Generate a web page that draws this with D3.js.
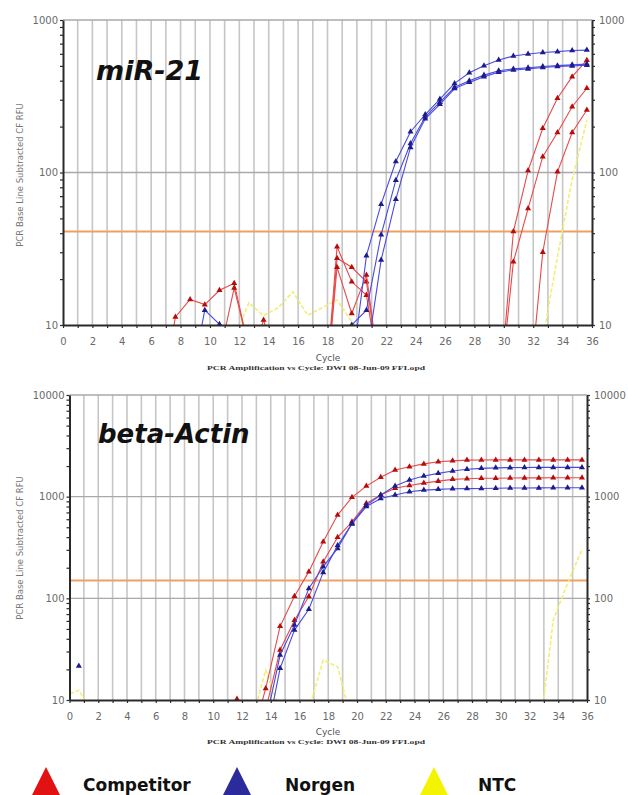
<!DOCTYPE html>
<html>
<head>
<meta charset="utf-8">
<script src="https://cdn.jsdelivr.net/npm/d3@7/dist/d3.min.js"></script>
<style>
  html, body { margin: 0; padding: 0; background: #fff; }
  svg { display: block; }
</style>
</head>
<body>
<svg id="chart" width="628" height="795"></svg>
<script>
// ---- data: RFU per cycle; each trace lists the first cycle and the readings that follow ----
const cycleTicks = d3.range(0, 37);

// miR-21 panel
const mirThreshold = 41;
const mirCompetitor = [
  { first: 7,  values: [3, 11.3, 14.7, 13.6, 16.9, 18.8, 7] },
  { first: 11, values: [6.3, 17.5, 7] },
  { first: 13, values: [5, 10.8, 5] },
  { first: 18, values: [2, 32.6, 19.2, 15.7, 4] },
  { first: 18, values: [2, 27.4, 23.9, 19.2, 4] },
  { first: 18, values: [2, 23.9, 11.9, 21.3, 4] },
  { first: 30, values: [3, 41, 103, 195, 307, 425, 545] },
  { first: 30, values: [3, 26, 58, 127, 183, 270, 357] },
  { first: 32, values: [3, 30, 101, 183, 257] }
];
const mirNorgen = [
  { first: 9,  values: [4, 12.5, 10.1, 4] },
  { first: 20, values: [5, 28.5, 62, 118, 185, 240, 303, 384, 451, 501, 547, 581, 598, 612, 620, 631, 635] },
  { first: 19, values: [4, 10, 12.5, 39, 89, 155, 232, 289, 362, 400, 435, 465, 478, 486, 495, 502, 508, 514] },
  { first: 21, values: [6, 26.7, 66.7, 146, 225, 280, 355, 390, 425, 455, 470, 478, 488, 495, 500, 505] }
];
const mirNTC = [
  { first: 12, values: [8, 14, 11.5, 13, 16.5, 11.6, 13, 14.6, 10.5, 8] },
  { first: 33, values: [8, 28, 90, 220] }
];

// beta-Actin panel
const actinThreshold = 150;
const actinCompetitor = [
  { first: 11, values: [4, 10.2, 4] },
  { first: 13, values: [4, 13, 53, 105, 183, 360, 659, 985, 1270, 1549, 1827, 1969, 2100, 2204, 2250, 2290, 2295, 2300, 2300, 2300, 2300, 2300, 2300, 2300] },
  { first: 14, values: [8, 31, 61, 104, 229, 398, 566, 860, 1037, 1208, 1290, 1360, 1422, 1480, 1500, 1515, 1520, 1525, 1530, 1530, 1535, 1535, 1535] }
];
const actinNorgen = [
  { first: 1,  values: [21.6] },
  { first: 14, values: [6, 27.7, 54.6, 125, 205, 310, 546, 827, 1037, 1270, 1456, 1595, 1695, 1790, 1860, 1900, 1920, 1930, 1935, 1940, 1940, 1940, 1940] },
  { first: 14, values: [4, 20.5, 48.7, 78, 180, 330, 540, 800, 960, 1037, 1117, 1160, 1180, 1195, 1200, 1205, 1210, 1215, 1218, 1220, 1222, 1224, 1224] }
];
const actinNTC = [
  { first: 0,  values: [11, 12.5, 7] },
  { first: 13, values: [6, 19.7, 8] },
  { first: 17, values: [8, 24.7, 21.2, 6] },
  { first: 33, values: [4, 61, 141, 300] }
];

const legendItems = ["Competitor", "Norgen", "NTC"];

// ---- styling ----
const colors = {
  competitorLine: "#e64a4a", competitorMark: "#b80c0c",
  norgenLine: "#4a4ae0", norgenMark: "#1c1c8e",
  ntcLine: "#f2ee72",
  threshold: "#f0a064",
  grid: "#c6c6c6", axis: "#2a2a2a", label: "#6a6a6a"
};
const legendColors = ["#e21212", "#2b2b9c", "#f4f400"];
const cycleShift = 0.35; // readings sit slightly before each integer cycle mark

const svg = d3.select("#chart");

const panels = [
  { id: "mir", title: "miR-21", titleX: 96, titleY: 80, titleSize: 27,
    left: 63, right: 592, top: 20, bottom: 325, yDomain: [10, 1000],
    threshold: mirThreshold, competitor: mirCompetitor, norgen: mirNorgen, ntc: mirNTC,
    tickLabelY: 17, cycleY: 361, subY: 370, yTitleY: 175 },
  { id: "actin", title: "beta-Actin", titleX: 98, titleY: 443, titleSize: 26,
    left: 69.5, right: 587, top: 395, bottom: 700, yDomain: [10, 10000],
    threshold: actinThreshold, competitor: actinCompetitor, norgen: actinNorgen, ntc: actinNTC,
    tickLabelY: 17, cycleY: 735, subY: 744, yTitleY: 548 }
];

panels.forEach(drawPanel);

function toPoints(trace) {
  return trace.values.map((v, i) => ({ c: trace.first + i - cycleShift, v }));
}

function drawPanel(p) {
  const x = d3.scaleLinear().domain([0, 36]).range([p.left, p.right]);
  const y = d3.scaleLog().domain(p.yDomain).range([p.bottom, p.top]);
  const g = svg.append("g");

  g.append("clipPath").attr("id", "clip-" + p.id)
    .append("rect")
    .attr("x", p.left).attr("y", p.top)
    .attr("width", p.right - p.left).attr("height", p.bottom - p.top);

  // vertical grid, one line per cycle
  g.append("g").selectAll("line")
    .data(cycleTicks.slice(1, -1))
    .join("line")
    .attr("x1", d => x(d)).attr("x2", d => x(d))
    .attr("y1", p.top).attr("y2", p.bottom)
    .attr("stroke", colors.grid).attr("stroke-width", 1.6);

  // horizontal grid at each decade
  const decades = y.ticks().filter(d => Number.isInteger(Math.log10(d)));
  g.append("g").selectAll("line")
    .data(decades.filter(d => d > p.yDomain[0]))
    .join("line")
    .attr("x1", p.left).attr("x2", p.right)
    .attr("y1", d => y(d)).attr("y2", d => y(d))
    .attr("stroke", "#a9a9a9").attr("stroke-width", 1.4);

  // threshold
  g.append("line")
    .attr("x1", p.left).attr("x2", p.right)
    .attr("y1", y(p.threshold)).attr("y2", y(p.threshold))
    .attr("stroke", colors.threshold).attr("stroke-width", 2);

  const plot = g.append("g").attr("clip-path", `url(#clip-${p.id})`);
  const line = d3.line().x(d => x(d.c)).y(d => y(d.v));

  // NTC traces: faint dashed yellow
  plot.append("g").selectAll("path")
    .data(p.ntc.map(toPoints))
    .join("path")
    .attr("d", line)
    .attr("fill", "none")
    .attr("stroke", colors.ntcLine)
    .attr("stroke-width", 1.6)
    .attr("stroke-dasharray", "4,2");

  const tri = d3.symbol().type(d3.symbolTriangle).size(16);
  [[p.competitor, colors.competitorLine, colors.competitorMark],
   [p.norgen, colors.norgenLine, colors.norgenMark]].forEach(([traces, lc, mc]) => {
    const grp = plot.append("g");
    traces.map(toPoints).forEach(pts => {
      grp.append("path")
        .attr("d", line(pts))
        .attr("fill", "none")
        .attr("stroke", lc)
        .attr("stroke-width", 1.1);
      grp.append("g").selectAll("path")
        .data(pts.filter(d => d.v >= 9.5))
        .join("path")
        .attr("d", tri)
        .attr("transform", d => `translate(${x(d.c)},${y(d.v)})`)
        .attr("fill", mc);
    });
  });

  // axes
  const logTicks = y.ticks();
  const fmtY = d => Number.isInteger(Math.log10(d)) ? d3.format("d")(d) : "";
  const styleAxis = sel => {
    sel.select(".domain").attr("stroke", colors.axis).attr("stroke-width", 2);
    sel.selectAll(".tick line").attr("stroke", colors.axis).attr("stroke-width", 1.2);
    sel.selectAll("text").attr("fill", colors.label)
      .attr("font-family", "DejaVu Sans, Verdana, sans-serif").attr("font-size", 10);
  };

  g.append("g").attr("transform", `translate(${p.left},0)`)
    .call(d3.axisLeft(y).tickValues(logTicks).tickFormat(fmtY).tickSize(3).tickSizeOuter(0).tickPadding(2))
    .call(styleAxis);
  g.append("g").attr("transform", `translate(${p.right},0)`)
    .call(d3.axisRight(y).tickValues(logTicks).tickFormat(fmtY).tickSize(3).tickSizeOuter(0).tickPadding(4))
    .call(styleAxis);
  g.append("g").attr("transform", `translate(0,${p.bottom})`)
    .call(d3.axisBottom(x).tickValues(cycleTicks).tickFormat(d => d % 2 === 0 ? d : "")
      .tickSize(3).tickSizeOuter(0).tickPadding(10))
    .call(styleAxis);

  // axis titles
  const midX = (p.left + p.right) / 2;
  g.append("text")
    .attr("x", 328).attr("y", p.cycleY)
    .attr("text-anchor", "middle")
    .attr("font-family", "DejaVu Sans, sans-serif").attr("font-size", 9)
    .attr("fill", "#555")
    .text("Cycle");
  g.append("text")
    .attr("x", 207).attr("y", p.subY)
    .attr("textLength", 218).attr("lengthAdjust", "spacingAndGlyphs")
    .attr("font-family", "Liberation Serif, serif").attr("font-weight", "bold").attr("font-size", 6.5)
    .attr("fill", "#333")
    .text("PCR Amplification vs Cycle: DWI 08-Jun-09 FFI.opd");
  g.append("text")
    .attr("transform", `translate(23,${p.yTitleY}) rotate(-90)`)
    .attr("text-anchor", "middle")
    .attr("font-family", "DejaVu Sans, sans-serif").attr("font-size", 8.5)
    .attr("fill", "#777")
    .text("PCR Base Line Subtracted CF RFU");

  // panel title
  g.append("text")
    .attr("x", p.titleX).attr("y", p.titleY)
    .attr("font-family", "DejaVu Sans, sans-serif")
    .attr("font-weight", "bold").attr("font-style", "italic")
    .attr("font-size", p.titleSize)
    .attr("fill", "#111")
    .text(p.title);
}

// legend
const legendX = [46, 237, 434];
const legendTextX = [83, 285, 478];
const legend = svg.append("g");
legendItems.forEach((name, i) => {
  const cx = legendX[i];
  legend.append("path")
    .attr("d", `M${cx},767 L${cx + 14.5},796 L${cx - 14.5},796 Z`)
    .attr("fill", legendColors[i]);
  legend.append("text")
    .attr("x", legendTextX[i]).attr("y", 791)
    .attr("font-family", "DejaVu Sans, sans-serif").attr("font-weight", "bold")
    .attr("font-size", 17).attr("fill", "#111")
    .text(name);
});
</script>
</body>
</html>
